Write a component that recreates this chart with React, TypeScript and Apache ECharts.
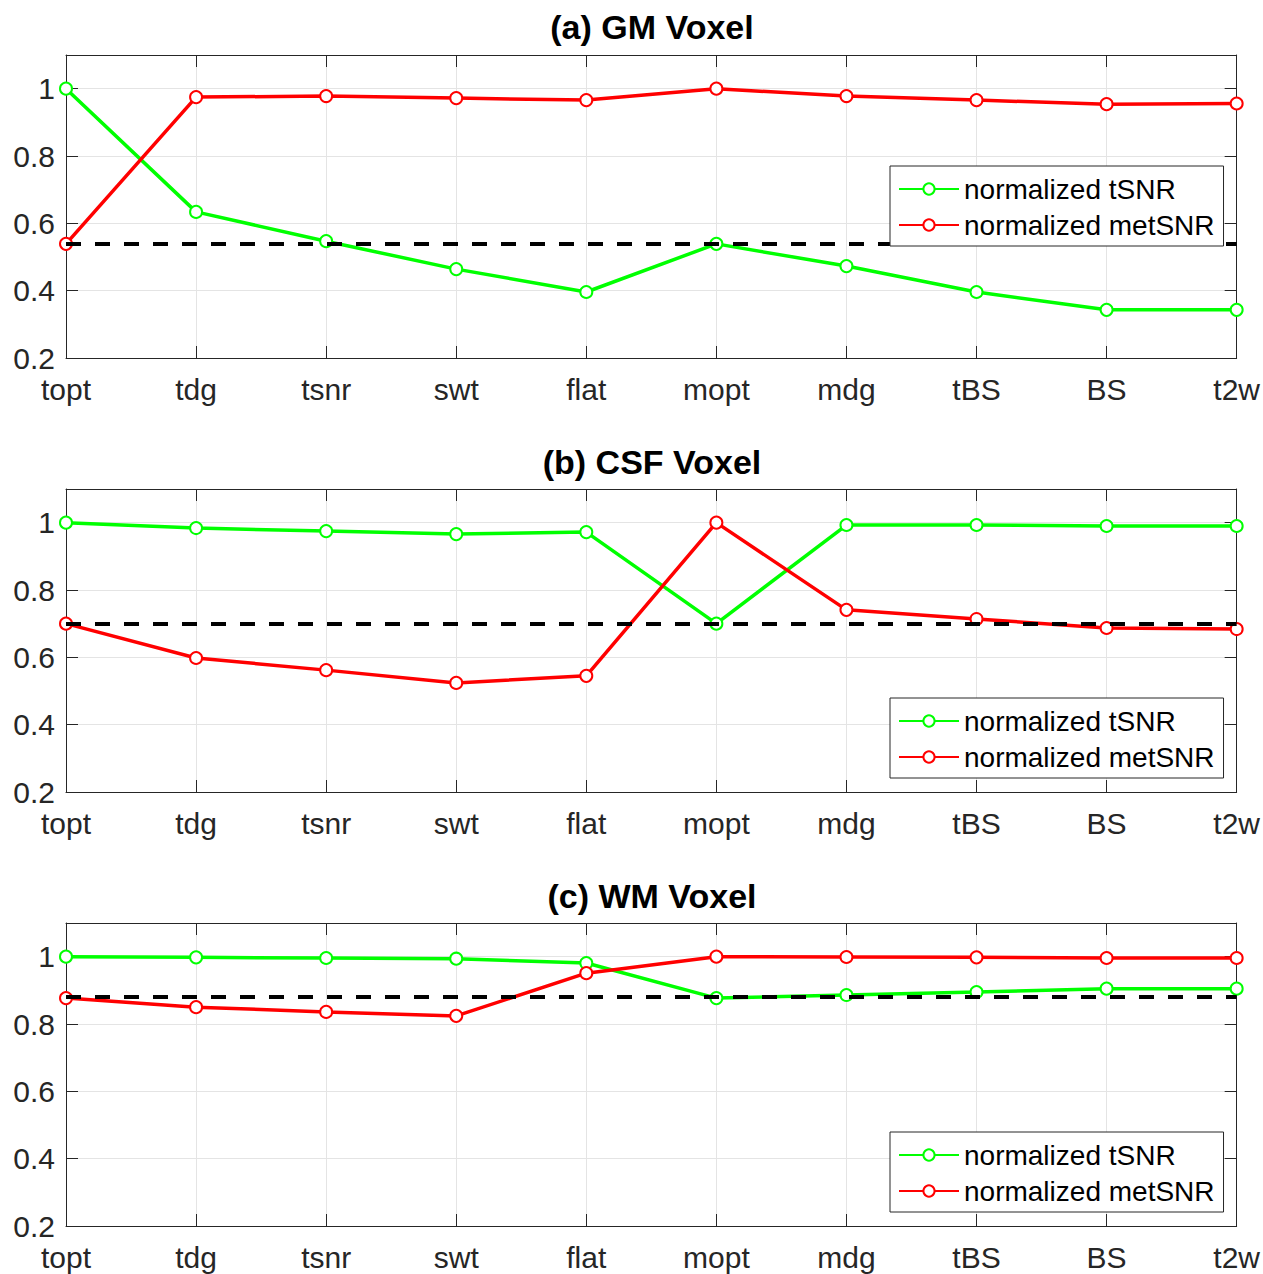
import React, { useEffect, useRef } from "react";
import * as echarts from "echarts";

const categories = ["topt", "tdg", "tsnr", "swt", "flat", "mopt", "mdg", "tBS", "BS", "t2w"];
const yTicks = [0.2, 0.4, 0.6, 0.8, 1.0];

const titles = ["(a) GM Voxel", "(b) CSF Voxel", "(c) WM Voxel"];

const gmTsnr = [1.0, 0.634, 0.547, 0.464, 0.396, 0.539, 0.473, 0.396, 0.343, 0.343];
const gmMetsnr = [0.539, 0.975, 0.978, 0.972, 0.966, 1.0, 0.978, 0.966, 0.954, 0.956];
const gmRef = 0.539;

const csfTsnr = [1.0, 0.984, 0.975, 0.966, 0.972, 0.7, 0.993, 0.993, 0.99, 0.99];
const csfMetsnr = [0.7, 0.598, 0.562, 0.524, 0.545, 1.0, 0.741, 0.714, 0.687, 0.684];
const csfRef = 0.7;

const wmTsnr = [1.0, 0.998, 0.996, 0.994, 0.981, 0.877, 0.886, 0.895, 0.905, 0.905];
const wmMetsnr = [0.877, 0.85, 0.836, 0.824, 0.951, 1.0, 0.999, 0.998, 0.996, 0.996];
const wmRef = 0.877;

const tsnrName = "normalized tSNR";
const metName = "normalized metSNR";

const GREEN = "#00ff00";
const RED = "#ff0000";
const AXIS = "#262626";
const GRID = "#e4e4e4";
const FONT = "Liberation Sans, Arial, Helvetica, sans-serif";

export default function App() {
  const ref = useRef<HTMLDivElement>(null);

  useEffect(() => {
    document.body.style.margin = "0";
    if (!ref.current) return;
    const chart = echarts.init(ref.current, undefined, { renderer: "svg" });

    const panels = [
      { tsnr: gmTsnr, met: gmMetsnr, refv: gmRef },
      { tsnr: csfTsnr, met: csfMetsnr, refv: csfRef },
      { tsnr: wmTsnr, met: wmMetsnr, refv: wmRef },
    ];
    const gridTops = [55, 489, 923];
    const legendTops = [166, 698, 1132];
    const titleY = [27, 462, 896];
    const plotLeft = 66;
    const plotWidth = 1172;
    const plotHeight = 303;

    const grids: any[] = [];
    const xAxes: any[] = [];
    const yAxes: any[] = [];
    const series: any[] = [];
    const legends: any[] = [];
    const graphics: any[] = [];

    panels.forEach((p, i) => {
      grids.push({ left: plotLeft, top: gridTops[i], width: plotWidth, height: plotHeight, containLabel: false });
      xAxes.push({
        type: "category",
        gridIndex: i,
        data: categories,
        boundaryGap: false,
        position: "bottom",
        axisLine: { show: true, lineStyle: { color: AXIS, width: 1 } },
        axisTick: { show: true, inside: true, length: 12, alignWithLabel: true, lineStyle: { color: AXIS } },
        axisLabel: { show: true, color: AXIS, fontSize: 30, fontFamily: FONT, margin: 16 },
        splitLine: { show: true, lineStyle: { color: GRID, width: 1 } },
      });
      xAxes.push({
        type: "category",
        gridIndex: i,
        data: categories,
        boundaryGap: false,
        position: "top",
        axisLine: { show: true, onZero: false, lineStyle: { color: AXIS, width: 1 } },
        axisTick: { show: true, inside: true, length: 12, lineStyle: { color: AXIS } },
        axisLabel: { show: false },
        splitLine: { show: false },
      });
      yAxes.push({
        type: "value",
        gridIndex: i,
        min: 0.2,
        max: 1.1,
        interval: 0.2,
        position: "left",
        axisLine: { show: true, onZero: false, lineStyle: { color: AXIS, width: 1 } },
        axisTick: { show: true, inside: true, length: 12, lineStyle: { color: AXIS } },
        axisLabel: {
          show: true,
          color: AXIS,
          fontSize: 30,
          fontFamily: FONT,
          margin: 11,
          showMaxLabel: false,
          formatter: (v: number) => {
            const t = yTicks.find((k) => Math.abs(k - v) < 1e-6);
            return t === undefined ? "" : String(Number(t.toFixed(1)));
          },
        },
        splitLine: { show: true, lineStyle: { color: GRID, width: 1 } },
      });
      yAxes.push({
        type: "value",
        gridIndex: i,
        min: 0.2,
        max: 1.1,
        interval: 0.2,
        position: "right",
        axisLine: { show: true, onZero: false, lineStyle: { color: AXIS, width: 1 } },
        axisTick: { show: true, inside: true, length: 12, lineStyle: { color: AXIS } },
        axisLabel: { show: false },
        splitLine: { show: false },
      });

      const xi = i * 2;
      const yi = i * 2;
      series.push({
        type: "line",
        name: tsnrName,
        xAxisIndex: xi,
        yAxisIndex: yi,
        data: p.tsnr,
        symbol: "emptyCircle",
        symbolSize: 12,
        lineStyle: { color: GREEN, width: 3.5 },
        itemStyle: { color: GREEN, borderWidth: 3 },
        z: 3,
      });
      series.push({
        type: "line",
        name: metName,
        xAxisIndex: xi,
        yAxisIndex: yi,
        data: p.met,
        symbol: "emptyCircle",
        symbolSize: 12,
        lineStyle: { color: RED, width: 3.5 },
        itemStyle: { color: RED, borderWidth: 3 },
        z: 3,
      });
      series.push({
        type: "line",
        xAxisIndex: xi,
        yAxisIndex: yi,
        data: [],
        z: 4,
        markLine: {
          silent: true,
          symbol: ["none", "none"],
          label: { show: false },
          lineStyle: { color: "#000", width: 4, type: [15, 14] },
          data: [{ yAxis: p.refv }],
          z: 4,
        },
      });
      legends.push({
        data: [tsnrName, metName],
        orient: "vertical",
        left: 890,
        top: legendTops[i],
        itemWidth: 60,
        itemHeight: 14,
        itemGap: 6,
        padding: [8, 9, 6, 8],
        backgroundColor: "#fff",
        borderColor: AXIS,
        borderWidth: 1,
        borderRadius: 0,
        selectedMode: false,
        textStyle: { color: "#000", fontSize: 28, fontFamily: FONT, lineHeight: 30 },
        z: 10,
      });
      graphics.push({
        type: "text",
        x: plotLeft + plotWidth / 2,
        y: titleY[i],
        style: {
          text: titles[i],
          textAlign: "center",
          textVerticalAlign: "middle",
          fill: "#000",
          font: `bold 34px ${FONT}`,
        },
      });
    });

    chart.setOption({
      animation: false,
      backgroundColor: "#fff",
      grid: grids,
      xAxis: xAxes,
      yAxis: yAxes,
      series,
      legend: legends,
      graphic: graphics,
    });

    return () => {
      chart.dispose();
    };
  }, []);

  return <div ref={ref} style={{ width: 1263, height: 1274 }} />;
}
